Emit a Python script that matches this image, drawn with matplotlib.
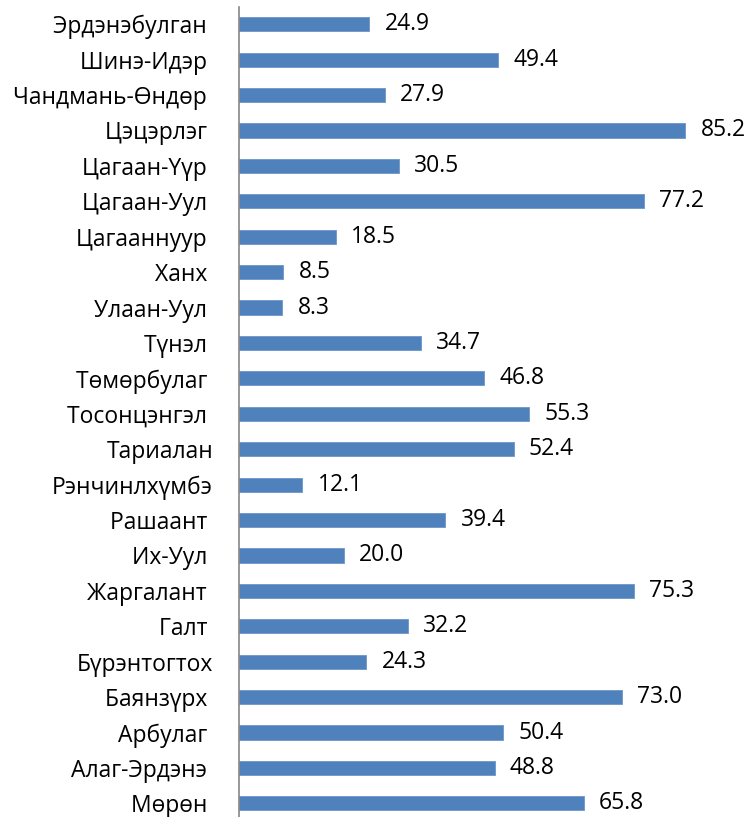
import matplotlib
matplotlib.use('Agg')
import matplotlib.pyplot as plt

# categories from bottom to top (as in the source sheet, trailing spaces kept)
soums = ['Мөрөн ', 'Алаг-Эрдэнэ ', 'Арбулаг ', 'Баянзүрх ', 'Бүрэнтогтох', 'Галт ',
         'Жаргалант ', 'Их-Уул ', 'Рашаант ', 'Рэнчинлхүмбэ', 'Тариалан',
         'Тосонцэнгэл ', 'Төмөрбулаг ', 'Түнэл ', 'Улаан-Уул ', 'Ханх ',
         'Цагааннуур ', 'Цагаан-Уул ', 'Цагаан-Үүр ', 'Цэцэрлэг ',
         'Чандмань-Өндөр ', 'Шинэ-Идэр ', 'Эрдэнэбулган ']
values = [65.8, 48.8, 50.4, 73.0, 24.3, 32.2, 75.3, 20.0, 39.4, 12.1, 52.4,
          55.3, 46.8, 34.7, 8.3, 8.5, 18.5, 77.2, 30.5, 85.2, 27.9, 49.4, 24.9]

plt.rcParams['font.family'] = ['Open Sans', 'DejaVu Sans']

fig = plt.figure(figsize=(7.51, 8.17), dpi=100)
ax = fig.add_axes([0.318, -0.005, 0.682, 0.997])

pos = range(len(soums))
ax.barh(pos, values, height=0.4, color='#4F81BD', edgecolor='#6E94C8', linewidth=0.6)

for y, v in zip(pos, values):
    ax.annotate('%.1f' % v, (v, y), xytext=(11, 0), textcoords='offset points',
                va='center', ha='left', fontsize=16.5, color='black')

ax.set_ylim(-0.5, len(soums) - 0.5)
ax.set_xlim(0, 97.7)
ax.set_yticks(list(pos))
ax.set_yticklabels(soums, fontsize=16.5)
ax.tick_params(axis='y', length=0, pad=18.5)
ax.set_xticks([])

for s in ['top', 'right', 'bottom']:
    ax.spines[s].set_visible(False)
ax.spines['left'].set_color('#868686')
ax.spines['left'].set_linewidth(1.2)

fig.savefig('out.png', dpi=100)
